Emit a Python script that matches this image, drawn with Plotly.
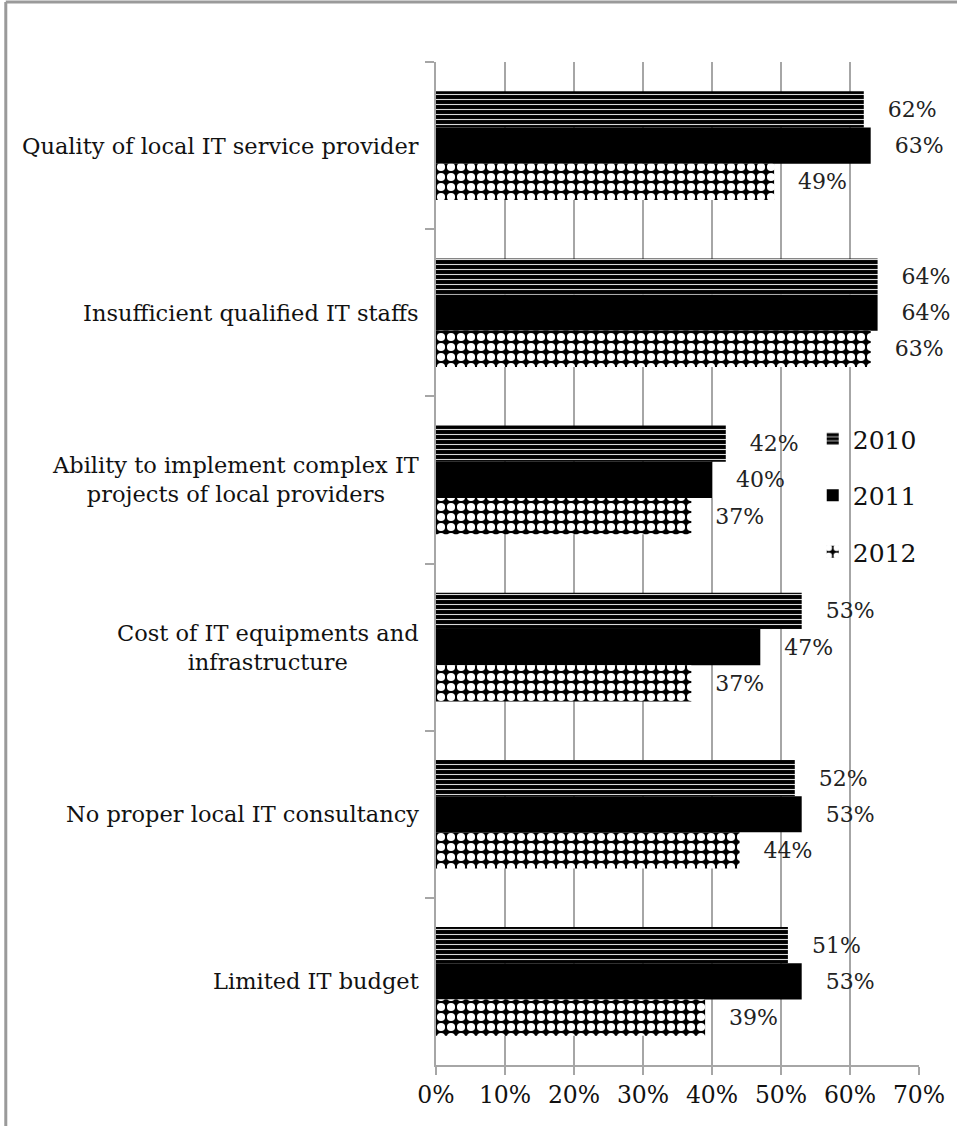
import plotly.graph_objects as go

categories = [
    "Quality of local IT service provider",
    "Insufficient qualified IT staffs",
    "Ability to implement complex IT<br>projects of local providers",
    "Cost of IT equipments and<br>infrastructure",
    "No proper local IT consultancy",
    "Limited IT budget",
]
years = ["2010", "2011", "2012"]
v2010 = [0.62, 0.64, 0.42, 0.53, 0.52, 0.51]
v2011 = [0.63, 0.64, 0.40, 0.47, 0.53, 0.53]
v2012 = [0.49, 0.63, 0.37, 0.37, 0.44, 0.39]
x_ticks = [0, 0.1, 0.2, 0.3, 0.4, 0.5, 0.6, 0.7]
x_tick_labels = ["0%", "10%", "20%", "30%", "40%", "50%", "60%", "70%"]

FONT = "DejaVu Serif"
GRID = "#a6a6a6"

patterns = [
    dict(shape="-", fillmode="overlay", bgcolor="black", fgcolor="white", fgopacity=0.85,
         size=5, solidity=0.22),
    None,
    dict(shape=".", fillmode="overlay", bgcolor="black", fgcolor="white", fgopacity=1,
         size=10, solidity=0.52),
]

fig = go.Figure()
for name, vals, pat in zip(years, [v2010, v2011, v2012], patterns):
    marker = dict(color="black", line=dict(width=0))
    if pat:
        marker["pattern"] = pat
    fig.add_trace(go.Bar(
        y=categories, x=vals, name=name, orientation="h",
        marker=marker,
        text=["   " + f"{round(v*100)}%" for v in vals],
        textposition="outside", cliponaxis=False,
        textfont=dict(family=FONT, size=22, color="#222"),
        legendgroup=name,
    ))

for c in categories:
    fig.add_annotation(
        x=0, xref="paper", y=c, yref="y", xanchor="right", yanchor="middle",
        xshift=-15, align="center", showarrow=False,
        text=c, font=dict(family=FONT, size=22.5, color="#111"),
    )

# outer border
L = (4 - 436) / 485
T = 1 + (62 - 2) / 1003
fig.add_shape(type="line", xref="paper", yref="paper", x0=L, x1=L, y0=-0.1, y1=T,
              line=dict(color="#9a9a9a", width=3))
fig.add_shape(type="line", xref="paper", yref="paper", x0=L, x1=1.2, y0=T, y1=T,
              line=dict(color="#9a9a9a", width=3))

fig.update_layout(
    width=957, height=1126,
    margin=dict(l=436, r=36, t=62, b=61),
    paper_bgcolor="white", plot_bgcolor="white",
    barmode="group", bargap=0.35, bargroupgap=0,
    showlegend=True,
    legend=dict(x=0.78, y=0.647, xanchor="left", yanchor="top",
                bgcolor="rgba(0,0,0,0)", font=dict(family=FONT, size=25, color="#111"),
                tracegroupgap=21, itemwidth=30),
    font=dict(family=FONT, color="#111"),
)
fig.update_xaxes(
    range=[0, 0.7], tickvals=x_ticks, ticktext=x_tick_labels,
    showgrid=True, gridcolor=GRID, gridwidth=2,
    showline=True, linecolor=GRID, linewidth=2,
    ticks="outside", ticklen=8, tickcolor=GRID, tickwidth=2,
    tickfont=dict(family=FONT, size=23.5, color="#111"),
    zeroline=False,
)
fig.update_yaxes(
    autorange="reversed", showticklabels=False,
    showgrid=False, showline=True, linecolor=GRID, linewidth=2,
    ticks="outside", tickson="boundaries", ticklen=9, tickcolor=GRID, tickwidth=2,
)

fig.write_html("out.html", config={"displayModeBar": False},
               post_script="document.body.style.margin='0';")
